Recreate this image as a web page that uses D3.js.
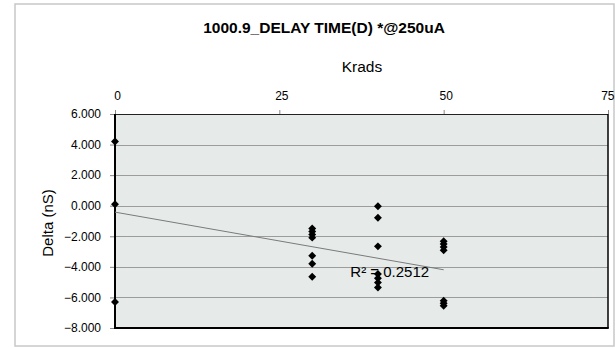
<!DOCTYPE html>
<html><head><meta charset="utf-8">
<script src="https://cdn.jsdelivr.net/npm/d3@7"></script>
<style>body{margin:0;background:#fff}svg{display:block;font-family:"Liberation Sans",Arial,sans-serif}</style>
</head><body>
<svg id="c" width="615" height="348"></svg>
<script>
const title = "1000.9_DELAY TIME(D) *@250uA";
const xTitle = "Krads";
const yTitle = "Delta (nS)";
const xTicks = [0, 25, 50, 75];
const yTicks = [6, 4, 2, 0, -2, -4, -6, -8];
const krads = [0, 0, 0, 30, 30, 30, 30, 30, 30, 30, 40, 40, 40, 40, 40, 40, 40, 50, 50, 50, 50, 50, 50, 50];
const delta = [4.2, 0.1, -6.3, -1.49, -1.69, -1.89, -2.09, -3.27, -3.8, -4.65, -0.03, -0.79, -2.66, -4.47, -4.74, -5.03, -5.35, -2.33, -2.5, -2.7, -2.92, -6.21, -6.38, -6.55];
const trendX = [0, 50];
const trendY = [-0.42, -4.19];
const r2Label = "R² = 0.2512";

const svg = d3.select("#c");
const L = 115, R = 608, T = 114, B = 328;
const x = d3.scaleLinear().domain([0, 75]).range([L, R]);
const y = d3.scaleLinear().domain([-8, 6]).range([B, T]);
const FF = "Liberation Sans, Arial, sans-serif";

// outer border
svg.append("rect").attr("x", 15).attr("y", 4).attr("width", 599).attr("height", 342)
  .attr("fill", "#fff").attr("stroke", "#c8c8c8").attr("stroke-width", 1.5);

// plot bg
svg.append("rect").attr("x", L).attr("y", T).attr("width", R - L).attr("height", B - T).attr("fill", "#e6ebea");

// gridlines
svg.append("g").selectAll("line").data(yTicks.filter(v => v > -8 && v < 6)).join("line")
  .attr("x1", L).attr("x2", R).attr("y1", d => Math.round(y(d)) + 0.5).attr("y2", d => Math.round(y(d)) + 0.5)
  .attr("stroke", "#9c9c9c").attr("stroke-width", 1);

// y axis
const ya = svg.append("g").attr("transform", `translate(${L},0)`)
  .call(d3.axisLeft(y).tickValues(yTicks).tickSize(5).tickPadding(9).tickFormat(d3.format(".3f")));
ya.select(".domain").remove();
ya.selectAll(".tick line").attr("stroke", "#888");
ya.selectAll("text").attr("font-size", 12).attr("fill", "#000").attr("font-family", FF);

// x axis (top)
const xa = svg.append("g").attr("transform", `translate(0,${T})`)
  .call(d3.axisTop(x).tickValues(xTicks).tickSize(4).tickPadding(10));
xa.select(".domain").remove();
xa.selectAll(".tick line").attr("stroke", "#888");
xa.selectAll("text").attr("font-size", 12).attr("fill", "#000").attr("font-family", FF)
  .attr("dx", d => d === 75 ? 0 : 2)
  .attr("text-anchor", d => d === 75 ? "end" : "middle")
  .attr("x", d => d === 75 ? 6 : 0);

// plot borders
svg.append("line").attr("x1", L).attr("x2", R).attr("y1", T + 0.5).attr("y2", T + 0.5).attr("stroke", "#222").attr("stroke-width", 1);
svg.append("line").attr("x1", R).attr("x2", R).attr("y1", T).attr("y2", B).attr("stroke", "#000").attr("stroke-width", 1.5);
svg.append("line").attr("x1", L).attr("x2", L).attr("y1", T).attr("y2", B + 1).attr("stroke", "#000").attr("stroke-width", 2);
svg.append("line").attr("x1", L - 1).attr("x2", R + 0.75).attr("y1", B).attr("y2", B).attr("stroke", "#000").attr("stroke-width", 2);

// trendline
svg.append("line").attr("x1", x(trendX[0])).attr("y1", y(trendY[0])).attr("x2", x(trendX[1])).attr("y2", y(trendY[1]))
  .attr("stroke", "#7a7a7a").attr("stroke-width", 1);

// points
const diamond = d3.symbol().type(d3.symbolDiamond2).size(40);
svg.append("g").selectAll("path").data(krads.map((k, i) => [k, delta[i]])).join("path")
  .attr("transform", d => `translate(${x(d[0])},${y(d[1])})`)
  .attr("d", diamond).attr("fill", "#000");

// R2 label
svg.append("text").attr("x", x(41.8)).attr("y", y(-4.65)).attr("text-anchor", "middle")
  .attr("font-size", 15).attr("fill", "#000").text(r2Label);

// titles
svg.append("text").attr("x", 324).attr("y", 32.5).attr("text-anchor", "middle").attr("font-size", 15.5).attr("font-weight", "bold").text(title);
svg.append("text").attr("x", 362).attr("y", 72).attr("text-anchor", "middle").attr("font-size", 15.5).text(xTitle);
svg.append("text").attr("transform", "translate(53,223) rotate(-90)").attr("text-anchor", "middle").attr("font-size", 15).text(yTitle);
</script>
</body></html>
